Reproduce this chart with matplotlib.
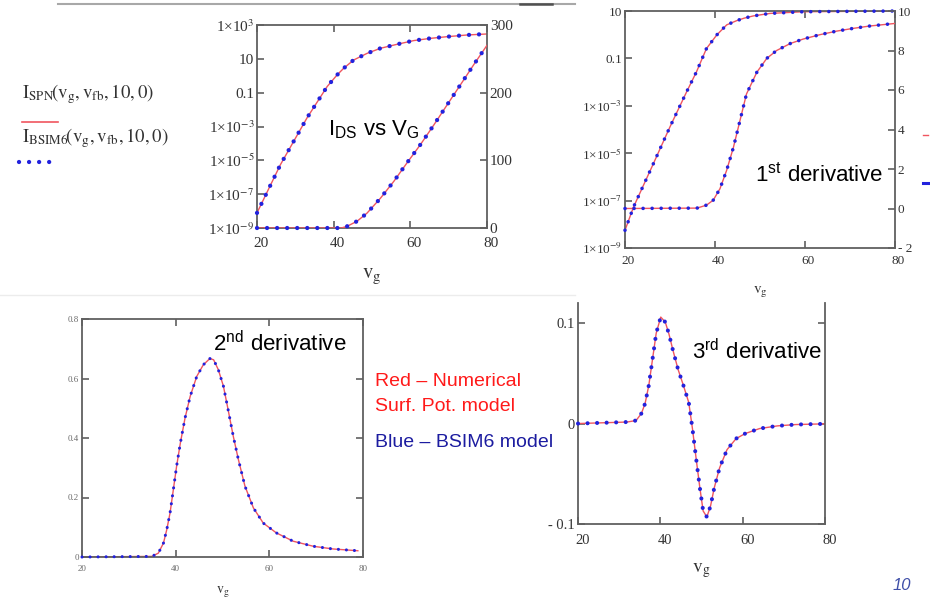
import numpy as np
import matplotlib
matplotlib.use('Agg')
import matplotlib.pyplot as plt
import matplotlib.transforms as mtransforms
from matplotlib.lines import Line2D

plt.rcParams['font.family'] = ['Liberation Serif', 'DejaVu Serif']
plt.rcParams['mathtext.fontset'] = 'stix'

W, H = 930, 600
RED = '#f0555f'
BLUE = '#2222dd'
SPINE = '#606060'
TXT = '#333333'
SANS = ['Liberation Sans', 'DejaVu Sans']

# ---------------- data ----------------
# IDS vs VG, log scale (left axis)
vg_ids_log = [20, 26.1, 33, 38.3, 40.9, 42.6, 45.2, 48.7, 52.2, 56.5, 60.9, 65.2, 69.6, 74.8, 80]
ids_log = [7.8e-9, 5.5e-6, 3.1e-3, 0.23, 1.12, 2.75, 8.5, 21, 42, 72, 120, 162, 204, 257, 295]
# IDS vs VG, linear scale (right axis)
vg_ids_lin = [20, 42, 43.5, 46.1, 48.7, 52.2, 55.7, 59.1, 62.6, 66.1, 69.6, 73, 76.5, 80]
ids_lin = [0, 0, 2.5, 10, 22, 44, 69, 96, 123, 152, 182, 211, 241, 270]

# 1st derivative, log (left) and linear (right)
vg_d1_log = [20, 21.9, 26.3, 30, 33.7, 35.9, 38.1, 40.4, 42.6, 44.8, 46.5, 48.5, 52.2, 59.6, 80]
d1_log = [5.6e-9, 5.4e-8, 3.6e-6, 1.3e-4, 3.9e-3, 2.75e-2, 0.26, 0.98, 2.6, 3.9, 5.0, 6.2, 7.9, 9.3, 10.0]
vg_d1_lin = [20, 36, 38.1, 39.6, 41.1, 42.6, 44.1, 45.6, 47, 49.3, 51.5, 53.7, 56.7, 59.6, 63.3,
             67, 70.7, 74.4, 80]
d1_lin = [0, 0.02, 0.17, 0.42, 1.0, 1.94, 3.1, 4.5, 5.8, 6.9, 7.6, 8.0, 8.35, 8.58, 8.8,
          8.98, 9.12, 9.24, 9.37]

# 2nd derivative
vg_d2 = [20, 34.9, 36.3, 37.4, 38.1, 38.8, 39.5, 40.2, 41, 42, 43.1, 44.5, 45.9, 47.3, 48.1,
         49.1, 50.2, 51.2, 52.3, 53.4, 54.8, 56.6, 58.7, 61.5, 65.1, 69.4, 73.6, 78.9]
d2 = [0, 0.002, 0.013, 0.047, 0.092, 0.148, 0.226, 0.305, 0.383, 0.467, 0.54, 0.607, 0.646,
      0.667, 0.663, 0.63, 0.574, 0.495, 0.406, 0.327, 0.238, 0.165, 0.114, 0.081, 0.053,
      0.036, 0.027, 0.021]

# 3rd derivative
vg_d3 = [20, 31.9, 34.1, 35.4, 36.3, 37.2, 38.1, 39, 40.1, 41.2, 42.1, 43, 44.3, 45.6, 46.9,
         47.8, 48.7, 49.6, 50.4, 51.3, 52.2, 53.1, 54.4, 56.2, 58.4, 60.6, 64.1, 68.5, 72.9, 80]
d3 = [0, 0.0015, 0.003, 0.01, 0.02, 0.038, 0.064, 0.09, 0.106, 0.101, 0.089, 0.074, 0.054,
      0.038, 0.021, -0.005, -0.035, -0.064, -0.087, -0.093, -0.082, -0.064, -0.044, -0.026,
      -0.015, -0.01, -0.005, -0.0023, -0.001, -0.0003]

x_ticks = [20, 40, 60, 80]
log1_ticks = [1e-9, 1e-7, 1e-5, 1e-3, 0.1, 10, 1e3]
log1_labels = [r'1×10$^{-9}$', r'1×10$^{-7}$', r'1×10$^{-5}$', r'1×10$^{-3}$', '0.1', '10', r'1×10$^{3}$']
lin1_ticks = [0, 100, 200, 300]
log2_ticks = [1e-9, 1e-7, 1e-5, 1e-3, 0.1, 10]
log2_labels = [r'1×10$^{-9}$', r'1×10$^{-7}$', r'1×10$^{-5}$', r'1×10$^{-3}$', '0.1', '10']
lin2_ticks = [-2, 0, 2, 4, 6, 8, 10]
lin2_labels = ['- 2', '0', '2', '4', '6', '8', '10']
d2_ticks = [0, 0.2, 0.4, 0.6, 0.8]
d2_labels = ['0', '0.2', '0.4', '0.6', '0.8']
d3_ticks = [-0.1, 0, 0.1]
d3_labels = ['- 0.1', '0', '0.1']

fig = plt.figure(figsize=(W / 100, H / 100), dpi=100)


def box(l, t, r, b):
    return fig.add_axes([l / W, 1 - b / H, (r - l) / W, (b - t) / H])


def fx(x):
    return x / W


def fy(y):
    return 1 - y / H


def style(ax, fs, xpad, color=TXT, dx=4):
    for s in ax.spines.values():
        s.set_color(SPINE)
        s.set_linewidth(1.3)
    ax.tick_params(direction='in', length=5, width=1.2, color=SPINE,
                   labelsize=fs, labelcolor=color, pad=2)
    ax.tick_params(axis='x', pad=xpad)
    ax.set_xlim(20, 80)
    ax.set_xticks(x_ticks)
    off = mtransforms.ScaledTranslation(dx / 100, 0, fig.dpi_scale_trans)
    for lbl in ax.get_xticklabels():
        lbl.set_transform(lbl.get_transform() + off)


def xlabel(ax, top_px, bottom_px, size):
    ax.set_xlabel(r'$\mathrm{v_g}$', fontsize=size, color=TXT)
    ax.xaxis.set_label_coords(0.5, -(top_px - bottom_px) / (ax.get_position().height * H))


def pair(ax, x, y, dot_px, gap_px):
    ax.plot(x, y, color=RED, lw=1.0, zorder=2)
    lw = dot_px * 0.72
    ax.plot(x, y, color=BLUE, lw=lw, linestyle=(0, (0.01, gap_px / dot_px)),
            dash_capstyle='round', zorder=3, clip_on=False)


# ---------------- plot 1: IDS vs VG ----------------
ax1 = box(257, 25, 487, 228)
style(ax1, 11, 6.5)
ax1.set_yscale('log')
ax1.set_ylim(1e-9, 1e3)
ax1.set_yticks(log1_ticks, log1_labels)
ax1.minorticks_off()
ax1.tick_params(top=True, right=False)
pair(ax1, vg_ids_log, ids_log, 4.3, 10)
ax1b = ax1.twinx()
ax1b.set_ylim(0, 300)
ax1b.set_yticks(lin1_ticks)
ax1b.tick_params(direction='in', length=5, width=1.2, color=SPINE, labelsize=11,
                 labelcolor=TXT, pad=2)
for s in ax1b.spines.values():
    s.set_visible(False)
pair(ax1b, vg_ids_lin, ids_lin, 4.3, 10)
xlabel(ax1, 267, 228, 15)

# ---------------- plot 2: 1st derivative ----------------
ax2 = box(625, 11, 895, 248)
style(ax2, 9.5, 5, dx=3)
ax2.set_yscale('log')
ax2.set_ylim(1e-9, 10)
ax2.set_yticks(log2_ticks, log2_labels)
ax2.minorticks_off()
ax2.tick_params(top=True, right=False)
pair(ax2, vg_d1_log, d1_log, 3.6, 9)
ax2b = ax2.twinx()
ax2b.set_ylim(-2, 10)
ax2b.set_yticks(lin2_ticks, lin2_labels)
ax2b.tick_params(direction='in', length=5, width=1.2, color=SPINE, labelsize=9.5,
                 labelcolor=TXT, pad=2)
for s in ax2b.spines.values():
    s.set_visible(False)
pair(ax2b, vg_d1_lin, d1_lin, 3.6, 9)
xlabel(ax2, 284, 248, 11)

# ---------------- plot 3: 2nd derivative ----------------
ax3 = box(82, 319, 363, 557)
style(ax3, 6.5, 5.5, color='#6a6a6a', dx=2)
ax3.set_ylim(0, 0.8)
ax3.set_yticks(d2_ticks, d2_labels)
ax3.tick_params(top=True, right=True, length=5)
pair(ax3, vg_d2, d2, 3.1, 8)
xlabel(ax3, 584, 557, 10)

# ---------------- plot 4: 3rd derivative ----------------
ax4 = box(578, 303, 825, 524)
style(ax4, 10.5, 7.5, dx=5)
ax4.set_ylim(-0.1, 0.12)
ax4.set_yticks(d3_ticks, d3_labels)
ax4.spines['top'].set_visible(False)
ax4.tick_params(top=False, right=True)
pair(ax4, vg_d3, d3, 4.1, 9.5)
xlabel(ax4, 561, 524, 14)

# ---------------- slide texts ----------------
fig.text(fx(328), fy(135), r'I$_\mathregular{DS}$ vs V$_\mathregular{G}$', family=SANS,
         fontsize=16, va='baseline')
fig.text(fx(755), fy(182), r'1$^\mathregular{st}$ derivative', family=SANS, fontsize=16,
         va='baseline')
fig.text(fx(213), fy(350), r'2$^\mathregular{nd}$ derivative', family=SANS, fontsize=16,
         va='baseline')
fig.text(fx(692), fy(358), r'3$^\mathregular{rd}$ derivative', family=SANS, fontsize=16,
         va='baseline')
fig.text(fx(375), fy(386), 'Red – Numerical', family=SANS, fontsize=14, color='#ff1a1a',
         va='baseline')
fig.text(fx(375), fy(411), 'Surf. Pot. model', family=SANS, fontsize=14, color='#ff1a1a',
         va='baseline')
fig.text(fx(375), fy(447), 'Blue – BSIM6 model', family=SANS, fontsize=14, color='#1c1ca0',
         va='baseline')
fig.text(fx(893), fy(590), '10', family=SANS, fontsize=12, color='#3f4fa8', style='italic',
         va='baseline')

# legend of plot 1
fig.text(fx(22), fy(98), r'$\mathrm{I_{SPN}}\!\left(\mathrm{v_g, v_{fb}, 10, 0}\right)$',
         fontsize=13.5, color=TXT, va='baseline')
fig.text(fx(22), fy(142), r'$\mathrm{I_{BSIM6}}\!\left(\mathrm{v_g, v_{fb}, 10, 0}\right)$',
         fontsize=13.5, color=TXT, va='baseline')
fig.add_artist(Line2D([fx(22), fx(58)], [fy(122), fy(122)], transform=fig.transFigure,
                      color=RED, lw=1.2))
fig.add_artist(Line2D([fx(19), fx(56)], [fy(162), fy(162)], transform=fig.transFigure,
                      color=BLUE, lw=4.3 * 0.72, linestyle=(0, (0.01, 10 / 4.3)),
                      dash_capstyle='round'))
# cut-off legend marks right of plot 2
fig.add_artist(Line2D([fx(923), fx(928)], [fy(135), fy(135)], transform=fig.transFigure,
                      color=RED, lw=1))
fig.add_artist(Line2D([fx(923), fx(928)], [fy(183), fy(183)], transform=fig.transFigure,
                      color=BLUE, lw=2.2))

# slide rules
fig.add_artist(Line2D([fx(58), fx(575)], [fy(4), fy(4)], transform=fig.transFigure,
                      color='#a8a8a8', lw=1.5))
fig.add_artist(Line2D([fx(520), fx(552)], [fy(4), fy(4)], transform=fig.transFigure,
                      color='#505050', lw=1.8))
fig.add_artist(Line2D([fx(0), fx(575)], [fy(295), fy(295)], transform=fig.transFigure,
                      color='#ececec', lw=1))

fig.savefig('out.png', dpi=100)
